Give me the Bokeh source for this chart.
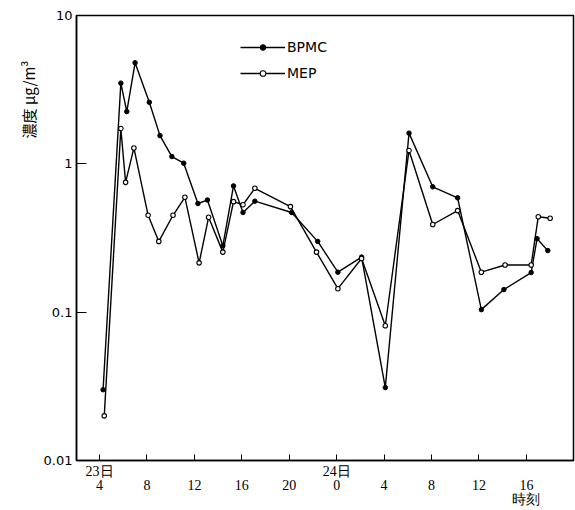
import math
from bokeh.plotting import figure
from bokeh.models import (FixedTicker, CustomJSTickFormatter, Legend, LegendItem,
                          Title, Range1d)
from bokeh.embed import file_html
from bokeh.resources import INLINE

# hours counted from 23日 0時
hours_bpmc = [4.3, 5.8, 6.3, 7.0, 8.2, 9.1, 10.1, 11.1, 12.3, 13.1, 14.4, 15.3, 16.1,
              17.1, 20.2, 22.4, 24.1, 26.1, 28.1, 30.1, 32.1, 34.2, 36.2, 38.1, 40.4,
              40.9, 41.8]
bpmc = [0.030, 3.5, 2.25, 4.8, 2.6, 1.55, 1.12, 1.01, 0.54, 0.57, 0.28, 0.71, 0.47,
        0.56, 0.47, 0.30, 0.186, 0.235, 0.031, 1.61, 0.70, 0.59, 0.104, 0.142, 0.185,
        0.313, 0.26]

hours_mep = [4.4, 5.8, 6.2, 6.9, 8.1, 9.0, 10.2, 11.2, 12.4, 13.2, 14.4, 15.3, 16.1,
             17.1, 20.1, 22.3, 24.1, 26.1, 28.1, 30.1, 32.1, 34.2, 36.2, 38.2, 40.4,
             41.0, 42.0]
mep = [0.020, 1.73, 0.75, 1.28, 0.45, 0.30, 0.45, 0.595, 0.215, 0.436, 0.254, 0.556,
       0.53, 0.684, 0.515, 0.254, 0.144, 0.23, 0.081, 1.23, 0.39, 0.484, 0.186, 0.208,
       0.208, 0.44, 0.43]

x_ticks = [4, 8, 12, 16, 20, 24, 28, 32, 36, 40]
x_tick_labels = ["23日\n4\n ", " \n8\n ", " \n12\n ", " \n16\n ", " \n20\n ",
                 "24日\n0\n ", " \n4\n ", " \n8\n ", " \n12\n ", " \n16\n時刻"]
y_ticks = [0.01, 0.1, 1, 10]
y_tick_labels = ["0.01", "0.1", "1", "10"]

p = figure(width=575, height=510, y_axis_type="log", output_backend="svg",
           toolbar_location=None,
           x_range=Range1d(2.06, 43.97), y_range=Range1d(0.01, 10),
           min_border_left=76, min_border_right=2, min_border_top=15,
           min_border_bottom=50)
p.background_fill_color = "white"
p.border_fill_color = "white"
p.grid.visible = False
p.outline_line_color = "black"
p.outline_line_width = 1.5

l1 = p.line(hours_bpmc, bpmc, line_color="black", line_width=1.4)
s1 = p.scatter(hours_bpmc, bpmc, size=4.5, fill_color="black", line_color="black")
l2 = p.line(hours_mep, mep, line_color="black", line_width=1.4)
s2 = p.scatter(hours_mep, mep, size=4.5, fill_color="white", line_color="black",
               line_width=1.1)

xa = p.xaxis[0]
xa.ticker = FixedTicker(ticks=x_ticks, minor_ticks=[])
xa.formatter = CustomJSTickFormatter(args=dict(t=x_ticks, lab=x_tick_labels), code="""
const i = t.indexOf(Math.round(tick));
return i >= 0 ? lab[i] : '';
""")
xa.major_tick_in = 6
xa.major_tick_out = 0
xa.minor_tick_line_color = None
xa.axis_line_width = 1.5
xa.major_label_standoff = 3
xa.major_label_text_font = "Liberation Serif"
xa.major_label_text_font_size = "14px"
xa.major_label_text_line_height = 0.95
xa.major_label_text_color = "black"

ya = p.yaxis[0]
ya.ticker = FixedTicker(ticks=y_ticks, minor_ticks=[])
ya.formatter = CustomJSTickFormatter(args=dict(t=y_ticks, lab=y_tick_labels), code="""
let best = -1, d = 1e9;
for (let k = 0; k < t.length; k++) {
  const e = Math.abs(Math.log10(t[k]) - Math.log10(tick));
  if (e < d) { d = e; best = k; }
}
return d < 1e-6 ? lab[best] : '';
""")
ya.major_tick_in = 10
ya.major_tick_out = 0
ya.minor_tick_line_color = None
ya.axis_line_width = 1.5
ya.major_label_standoff = 4
ya.major_label_text_font = "DejaVu Sans"
ya.major_label_text_font_size = "13px"
ya.major_label_text_color = "black"

legend = Legend(items=[LegendItem(label="BPMC", renderers=[l1, s1]),
                       LegendItem(label="MEP", renderers=[l2, s2])],
                location=(164, 379), glyph_width=45, glyph_height=14,
                label_standoff=2, spacing=10, padding=0, margin=0,
                border_line_color=None, background_fill_alpha=0,
                label_text_font="DejaVu Sans", label_text_font_size="14px",
                label_text_color="black")
p.add_layout(legend, "center")

ytitle = Title(text="濃度 μg/m³", align="right", offset=45,
               text_font="Noto Sans CJK JP", text_font_size="15px",
               text_font_style="normal", text_color="black", standoff=4)
p.add_layout(ytitle, "left")

open("out.html", "w").write(file_html(p, INLINE))
